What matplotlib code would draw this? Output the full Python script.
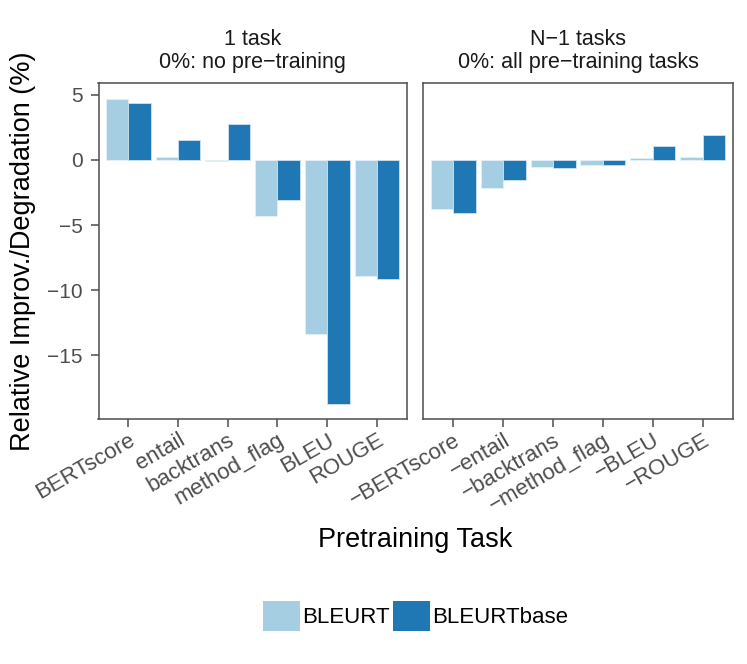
import matplotlib.pyplot as plt
import matplotlib.patches as mpatches
from matplotlib.transforms import ScaledTranslation
import numpy as np

plt.rcParams['font.family'] = ['Liberation Sans', 'DejaVu Sans']

left_tasks = ["BERTscore", "entail", "backtrans", "method_flag", "BLEU", "ROUGE"]
right_tasks = ["\u2212BERTscore", "\u2212entail", "\u2212backtrans", "\u2212method_flag", "\u2212BLEU", "\u2212ROUGE"]

left_bleurt = [4.72, 0.23, -0.10, -4.28, -13.34, -8.95]
left_base = [4.36, 1.53, 2.73, -3.06, -18.75, -9.15]
right_bleurt = [-3.78, -2.17, -0.56, -0.38, 0.15, 0.26]
right_base = [-4.05, -1.56, -0.64, -0.41, 1.07, 1.89]

strip_titles = ["1 task\n0%: no pre\u2212training", "N\u22121 tasks\n0%: all pre\u2212training tasks"]
y_ticks = [5, 0, -5, -10, -15]

light = "#A6CEE3"
dark = "#1F78B4"
grey = "#4D4D4D"

W, H = 747, 664
fig = plt.figure(figsize=(W / 100, H / 100), dpi=100)


def px_axes(x0, y0, x1, y1):
    return fig.add_axes([x0 / W, 1 - y1 / H, (x1 - x0) / W, (y1 - y0) / H])


ax_l = px_axes(98.5, 83.3, 406.7, 419.3)
ax_r = px_axes(423.3, 83.3, 732.7, 419.3)

panels = [
    (ax_l, left_tasks, left_bleurt, left_base, strip_titles[0]),
    (ax_r, right_tasks, right_bleurt, right_base, strip_titles[1]),
]

# nudge rotated tick labels a bit right/down like ggplot does
nudge = ScaledTranslation(6 / 100, -8 / 100, fig.dpi_scale_trans)

ymin, ymax = -19.92, 5.89
for i, (ax, tasks, b1, b2, title) in enumerate(panels):
    x = np.arange(len(tasks))
    ax.bar(x - 0.225, b1, width=0.45, color=light, edgecolor="#E4F0F7", linewidth=0.6)
    ax.bar(x + 0.225, b2, width=0.45, color=dark, edgecolor="#CFE2EF", linewidth=0.6)
    ax.set_xlim(-0.6, len(tasks) - 0.4)
    ax.set_ylim(ymin, ymax)
    ax.set_xticks(x)
    ax.set_xticklabels(tasks, rotation=30, ha="right", va="top", rotation_mode="anchor",
                       fontsize=16, color=grey)
    for lab in ax.get_xticklabels():
        lab.set_transform(lab.get_transform() + nudge)
    ax.set_yticks(y_ticks)
    ax.set_yticklabels([str(t).replace("-", "\u2212") for t in y_ticks],
                       fontsize=15, color=grey)
    ax.tick_params(axis="both", length=5.5, width=1.1, color=grey)
    ax.tick_params(axis="x", pad=2)
    ax.tick_params(axis="y", pad=6)
    if i == 1:
        ax.tick_params(axis="y", left=False, labelleft=False)
    for s in ax.spines.values():
        s.set_color(grey)
        s.set_linewidth(1.1)
    ax.set_title(title, fontsize=15.5, color="#1A1A1A", pad=11, linespacing=1.15)

fig.text(23 / W, 1 - 251.3 / H, "Relative Improv./Degradation (%)",
         rotation=90, ha="center", va="center", fontsize=19.5)
fig.text(415.5 / W, 1 - 540 / H, "Pretraining Task",
         ha="center", va="center", fontsize=19.5)

handles = [mpatches.Patch(facecolor=light, edgecolor="none", label="BLEURT"),
           mpatches.Patch(facecolor=dark, edgecolor="none", label="BLEURTbase")]
fig.legend(handles=handles, loc="center", bbox_to_anchor=(415.5 / W, 1 - 616 / H),
           ncol=2, frameon=False, fontsize=16, handlelength=1.65, handleheight=1.65,
           handletextpad=0.1, columnspacing=0.14, borderaxespad=0, borderpad=0)

fig.savefig("out.png", dpi=100)
